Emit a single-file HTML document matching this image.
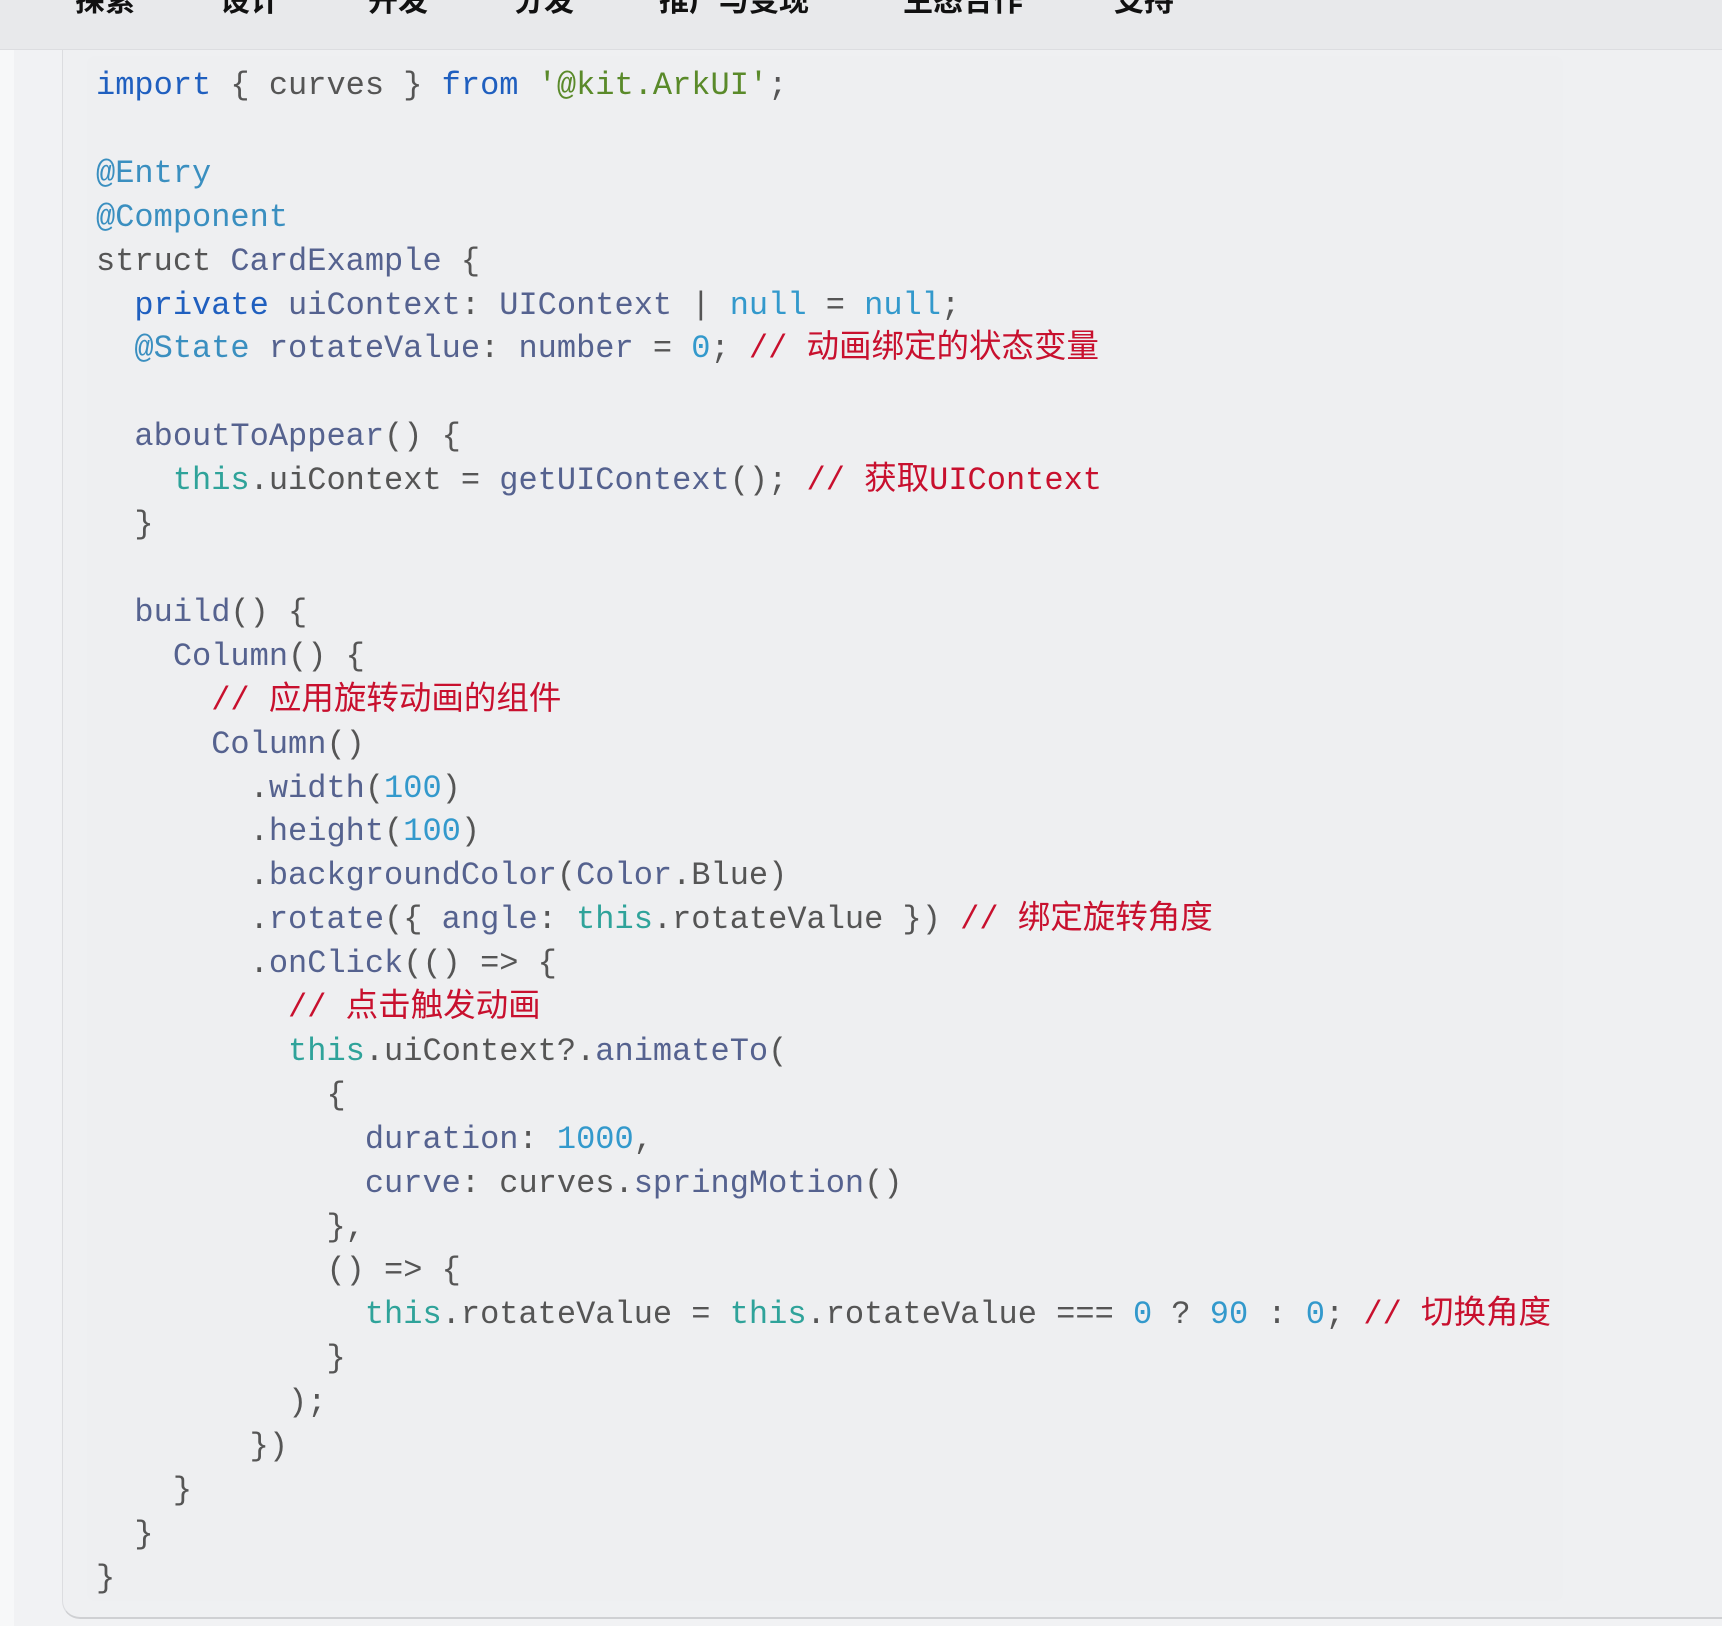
<!DOCTYPE html>
<html><head><meta charset="utf-8"><style>
html,body{margin:0;padding:0;width:1722px;height:1626px;overflow:hidden;background:#f1f2f4;}
.hdr{position:absolute;left:0;top:0;width:1722px;height:49px;background:#e8e9eb;border-bottom:1px solid #dcdde0;overflow:hidden;}
.nav{position:absolute;top:-24px;font:bold 30px "Liberation Sans","Noto Sans CJK SC",sans-serif;color:#111;white-space:pre;}
.strip{position:absolute;left:0;top:50px;width:14px;height:1576px;background:#f7f8f9;}
.panel{position:absolute;left:62px;top:50px;width:1700px;height:1567px;background:#eff0f2;border-left:1px solid #dcdde0;border-bottom:2px solid #cfd0d3;border-bottom-left-radius:18px;}
.code{position:absolute;left:87px;top:56px;width:1476px;height:1545px;background:#eeeff1;border-radius:8px;}
pre{position:absolute;left:96px;top:64px;margin:0;font:32px/43.9px "Liberation Mono",monospace;color:#555;}
.k{color:#1f5fbf}.s{color:#5a8a2a}.d{color:#3a8fc0}.p{color:#55628f}.n{color:#3399cc}.c{color:#c8102e}.t{color:#2fa39a}
.z{font-family:"Noto Sans CJK SC",sans-serif;font-size:32.5px;line-height:0;}
</style></head><body>
<div class="hdr">
<div class="nav" style="left:75px">探索</div>
<div class="nav" style="left:220px">设计</div>
<div class="nav" style="left:368px">开发</div>
<div class="nav" style="left:514px">分发</div>
<div class="nav" style="left:659px">推广与变现</div>
<div class="nav" style="left:903px">生态合作</div>
<div class="nav" style="left:1114px">支持</div>
</div>
<div class="strip"></div>
<div class="panel"></div>
<div class="code"></div>
<pre><span class="k">import</span> { curves } <span class="k">from</span> <span class="s">'@kit.ArkUI'</span>;

<span class="d">@Entry</span>
<span class="d">@Component</span>
struct <span class="p">CardExample</span> {
  <span class="k">private</span> <span class="p">uiContext</span>: <span class="p">UIContext</span> | <span class="n">null</span> = <span class="n">null</span>;
  <span class="d">@State</span> <span class="p">rotateValue</span>: <span class="p">number</span> = <span class="n">0</span>; <span class="c">// <span class="z">动画绑定的状态变量</span></span>

  <span class="p">aboutToAppear</span>() {
    <span class="t">this</span>.uiContext = <span class="p">getUIContext</span>(); <span class="c">// <span class="z">获取</span>UIContext</span>
  }

  <span class="p">build</span>() {
    <span class="p">Column</span>() {
      <span class="c">// <span class="z">应用旋转动画的组件</span></span>
      <span class="p">Column</span>()
        .<span class="p">width</span>(<span class="n">100</span>)
        .<span class="p">height</span>(<span class="n">100</span>)
        .<span class="p">backgroundColor</span>(<span class="p">Color</span>.Blue)
        .<span class="p">rotate</span>({ <span class="p">angle</span>: <span class="t">this</span>.rotateValue }) <span class="c">// <span class="z">绑定旋转角度</span></span>
        .<span class="p">onClick</span>(() =&gt; {
          <span class="c">// <span class="z">点击触发动画</span></span>
          <span class="t">this</span>.uiContext?.<span class="p">animateTo</span>(
            {
              <span class="p">duration</span>: <span class="n">1000</span>,
              <span class="p">curve</span>: curves.<span class="p">springMotion</span>()
            },
            () =&gt; {
              <span class="t">this</span>.rotateValue = <span class="t">this</span>.rotateValue === <span class="n">0</span> ? <span class="n">90</span> : <span class="n">0</span>; <span class="c">// <span class="z">切换角度</span></span>
            }
          );
        })
    }
  }
}</pre>
</body></html>
